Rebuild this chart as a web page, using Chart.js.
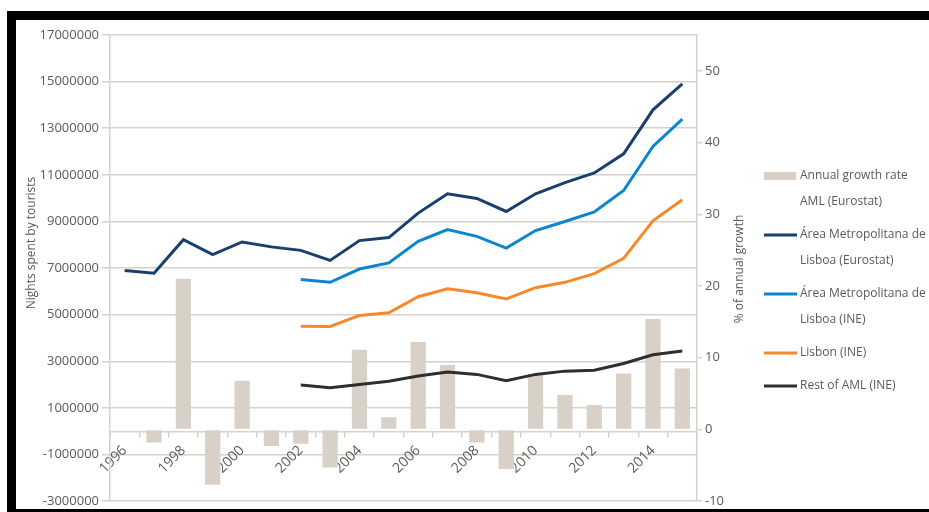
<!DOCTYPE html>
<html>
<head>
<meta charset="utf-8">
<script src="https://cdn.jsdelivr.net/npm/chart.js@4"></script>
<style>
  body { margin: 0; background: #fff; }
  .wrap { position: relative; width: 929px; height: 512px; overflow: hidden; }
  #chart { position: absolute; left: 0; top: 0; }
  .frame {
    position: absolute; left: 7px; top: 11px; width: 922px; height: 501px;
    box-sizing: border-box; border-top: 9px solid #000; border-left: 9px solid #000;
    border-bottom: 3px solid #000; pointer-events: none;
  }
</style>
</head>
<body>
<div class="wrap">
  <canvas id="chart" width="929" height="512"></canvas>
  <div class="frame"></div>
</div>
<script>
// years on the category axis
var years = ['1996', '1997', '1998', '1999', '2000', '2001', '2002', '2003', '2004', '2005',
  '2006', '2007', '2008', '2009', '2010', '2011', '2012', '2013', '2014', '2015'];

// % annual growth, AML (Eurostat) - right axis
var growthRate = [null, -1.8, 21.0, -7.7, 6.8, -2.3, -2.0, -5.3, 11.1, 1.7,
  12.2, 9.0, -1.8, -5.5, 7.7, 4.8, 3.4, 7.8, 15.4, 8.5];

// nights spent by tourists - left axis
var amlEurostat = [6900000, 6780000, 8220000, 7580000, 8120000, 7910000, 7760000, 7330000, 8180000, 8310000,
  9360000, 10190000, 9990000, 9430000, 10190000, 10670000, 11080000, 11900000, 13790000, 14900000];
var amlIne = [null, null, null, null, null, null, 6510000, 6390000, 6960000, 7220000,
  8150000, 8650000, 8360000, 7860000, 8610000, 9000000, 9410000, 10330000, 12220000, 13390000];
var lisbonIne = [null, null, null, null, null, null, 4510000, 4500000, 4970000, 5080000,
  5770000, 6110000, 5940000, 5680000, 6160000, 6390000, 6760000, 7420000, 9030000, 9930000];
var restAml = [null, null, null, null, null, null, 1980000, 1870000, 2010000, 2150000,
  2370000, 2540000, 2440000, 2170000, 2440000, 2580000, 2620000, 2910000, 3280000, 3440000];

// legend text, one entry per line of text
var legendItems = [
  { type: 'bar', color: '#D9D0C7', lines: ['Annual growth rate', 'AML (Eurostat)'] },
  { type: 'line', color: '#17406D', lines: ['Área Metropolitana de', 'Lisboa (Eurostat)'] },
  { type: 'line', color: '#0A86CF', lines: ['Área Metropolitana de', 'Lisboa (INE)'] },
  { type: 'line', color: '#F7892B', lines: ['Lisbon (INE)'] },
  { type: 'line', color: '#2E2E2E', lines: ['Rest of AML (INE)'] }
];

var textColor = '#595959';
var gridColor = '#D6D1CB';
var tickFont = { family: '"Open Sans", sans-serif', size: 13 };

function verticalText(ctx, text, x, y) {
    ctx.save();
    ctx.translate(x, y);
    ctx.rotate(-Math.PI / 2);
    ctx.font = '12px "Open Sans", sans-serif';
    ctx.fillStyle = textColor;
    ctx.textAlign = 'center';
    ctx.textBaseline = 'middle';
    ctx.fillText(text, 0, 0);
    ctx.restore();
}

const sideLegend = {
    id: 'sideLegend',
    afterDraw(chart) {
        const ctx = chart.ctx;
        // axis titles, both read bottom to top
        verticalText(ctx, 'Nights spent by tourists', 32, 243);
        verticalText(ctx, '% of annual growth', 740, 269);

        ctx.save();
        ctx.font = '12px "Open Sans", sans-serif';
        ctx.textBaseline = 'middle';
        let y = 176;
        legendItems.forEach((item) => {
            if (item.type == 'bar') {
                ctx.fillStyle = item.color;
                ctx.fillRect(764, y - 4, 32, 8);
            } else {
                ctx.strokeStyle = item.color;
                ctx.lineWidth = 3;
                ctx.beginPath();
                ctx.moveTo(764, y);
                ctx.lineTo(797, y);
                ctx.stroke();
            }
            ctx.fillStyle = textColor;
            item.lines.forEach((line, k) => {
                ctx.fillText(line, 800, y + k * 26);
            });
            y += (item.lines.length - 1) * 26 + 33;
        });
        ctx.restore();
    }
};

function lineSet(label, data, color) {
    return {
        type: 'line',
        label: label,
        data: data,
        yAxisID: 'y',
        borderColor: color,
        backgroundColor: color,
        borderWidth: 3,
        pointRadius: 0,
        tension: 0,
        order: 1
    };
}

new Chart(document.getElementById('chart'), {
    data: {
        labels: years,
        datasets: [
            lineSet('Área Metropolitana de Lisboa (Eurostat)', amlEurostat, '#17406D'),
            lineSet('Área Metropolitana de Lisboa (INE)', amlIne, '#0A86CF'),
            lineSet('Lisbon (INE)', lisbonIne, '#F7892B'),
            lineSet('Rest of AML (INE)', restAml, '#2E2E2E'),
            {
                type: 'bar',
                label: 'Annual growth rate AML (Eurostat)',
                data: growthRate,
                yAxisID: 'y2',
                backgroundColor: '#D9D0C7',
                barPercentage: 0.52,
                categoryPercentage: 1,
                order: 2
            }
        ]
    },
    options: {
        responsive: false,
        animation: false,
        layout: { padding: { left: 21, right: 178, top: 35, bottom: 10 } },
        plugins: {
            legend: { display: false },
            tooltip: { enabled: false }
        },
        scales: {
            x: {
                position: { y: 0 },
                offset: true,
                grid: { offset: true, drawOnChartArea: false, tickLength: 5, color: gridColor, lineWidth: 1.5 },
                border: { color: gridColor, width: 1.5 },
                ticks: {
                    autoSkip: false,
                    minRotation: 45,
                    maxRotation: 45,
                    padding: 6,
                    color: textColor,
                    font: { family: '"Open Sans", sans-serif', size: 14 },
                    callback: (v, i) => (i % 2 === 0 ? years[i] : '')
                }
            },
            y: {
                position: 'left',
                min: -3000000,
                max: 17000000,
                ticks: { stepSize: 2000000, color: textColor, font: tickFont, callback: (v) => String(v) },
                grid: { color: gridColor, lineWidth: 1.5, tickLength: 8 },
                border: { color: gridColor, width: 1.5 },
                afterFit(scale) { scale.width = 89; }
            },
            y2: {
                position: 'right',
                min: -10,
                max: 55,
                ticks: { stepSize: 10, color: textColor, font: tickFont },
                grid: { drawOnChartArea: false, tickLength: 5, color: gridColor, lineWidth: 1.5 },
                border: { color: gridColor, width: 1.5 },
                afterBuildTicks(scale) {
                    scale.ticks = scale.ticks.filter((t) => t.value % 10 === 0);
                },
                afterFit(scale) { scale.width = 54; }
            }
        }
    },
    plugins: [sideLegend]
});
</script>
</body>
</html>
